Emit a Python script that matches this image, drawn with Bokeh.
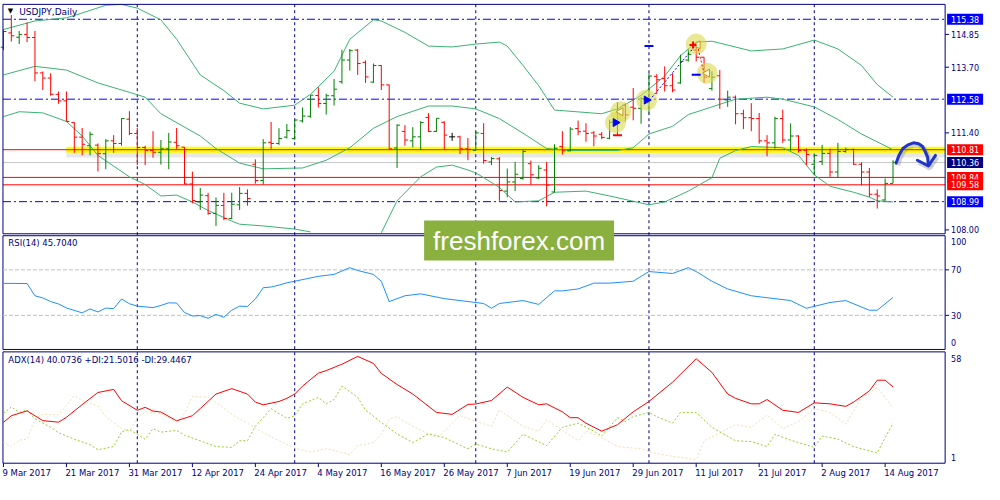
import numpy as np
from bokeh.plotting import figure
from bokeh.models import Range1d, Label, ColumnDataSource
from bokeh.core.properties import value
from bokeh.embed import file_html
from bokeh.resources import INLINE

# ---------------- data ----------------
tick_idx = [0, 8, 16, 24, 32, 40, 48, 56, 64, 72, 80, 88, 96, 104, 112]
tick_labels = ["9 Mar 2017", "21 Mar 2017", "31 Mar 2017", "12 Apr 2017", "24 Apr 2017",
               "4 May 2017", "16 May 2017", "26 May 2017", "7 Jun 2017", "19 Jun 2017",
               "29 Jun 2017", "11 Jul 2017", "21 Jul 2017", "2 Aug 2017", "14 Aug 2017"]
month_sep_idx = [17, 37, 60, 82, 103]

opens = [114.40,114.90,114.75,114.85,114.74,113.50,113.32,112.75,112.52,111.76,
         111.25,110.95,110.97,110.67,111.12,111.03,111.88,111.38,110.89,110.78,
         110.72,110.84,111.07,110.90,109.61,108.98,109.20,108.58,108.86,108.40,
         108.88,109.28,110.30,109.73,111.07,111.03,111.25,111.20,111.82,111.98,
         112.71,112.43,112.70,113.19,113.95,114.30,113.87,113.18,113.76,113.08,
         110.87,111.45,111.12,111.26,111.94,111.45,111.77,111.26,111.26,110.84,
         110.78,111.38,110.38,110.49,109.36,109.68,109.80,110.32,109.82,110.10,
         109.33,110.92,110.77,111.55,111.46,111.40,111.35,111.21,111.77,112.37,
         112.30,112.26,112.58,113.38,113.30,113.05,113.15,113.95,114.30,114.05,
         112.95,113.40,112.55,112.65,112.07,111.93,111.90,111.12,111.05,111.90,
         111.15,111.29,110.78,110.30,110.40,110.68,110.03,110.75,110.82,110.30,
         110.03,109.25,109.05,109.63]
highs = [115.02,115.53,114.97,115.27,114.97,113.55,113.49,112.85,112.85,111.77,
         111.57,111.44,111.03,111.18,111.32,111.91,112.16,111.57,110.95,111.46,
         111.15,111.40,111.57,110.90,110.04,109.47,109.30,109.14,109.30,109.30,
         109.50,109.42,110.47,111.18,111.78,111.56,111.71,111.88,112.29,112.72,
         113.00,112.77,113.29,114.31,114.34,114.34,113.94,113.83,113.77,113.09,
         111.70,111.67,111.60,111.81,112.09,111.91,111.81,111.40,111.30,111.22,
         111.46,111.74,110.55,110.55,110.15,110.38,110.81,110.43,110.27,110.38,
         111.00,111.46,111.60,111.83,111.74,111.46,111.43,111.86,112.48,112.43,
         112.97,112.65,113.49,113.46,113.73,113.49,114.14,114.34,114.51,114.05,
         113.56,113.60,112.88,112.71,112.21,112.44,112.10,111.32,111.97,112.21,
         111.73,111.32,110.85,110.68,110.98,110.85,111.05,110.88,110.85,110.37,
         110.17,109.42,109.80,110.44]
lows = [114.30,114.60,114.51,114.58,113.21,112.90,112.70,112.42,111.79,110.70,
        110.61,110.61,110.05,110.13,110.70,110.95,111.32,110.27,110.27,110.53,
        110.29,110.13,110.84,109.60,108.93,108.70,108.53,108.14,108.34,108.38,
        108.70,108.85,109.62,109.59,110.84,110.98,111.20,111.16,111.76,111.93,
        112.29,112.04,112.36,113.12,113.58,113.43,113.15,113.15,112.90,110.84,
        110.17,110.95,110.89,110.80,111.43,111.43,110.80,111.12,110.66,110.44,
        110.78,110.32,110.27,109.02,109.14,109.36,109.76,109.59,109.78,108.83,
        109.31,110.64,110.75,111.32,111.09,110.93,111.18,111.18,111.29,111.80,
        111.84,111.72,112.07,112.75,112.85,112.82,113.12,113.90,113.90,113.15,
        112.88,112.24,112.31,111.70,111.53,111.46,111.02,110.58,110.85,111.05,
        110.78,110.71,110.27,109.93,110.27,109.86,109.83,110.71,110.27,109.56,
        109.15,108.75,109.02,109.63]
closes = [114.95,114.80,114.85,114.74,113.50,113.32,112.75,112.52,111.80,111.25,
          111.00,111.35,110.67,111.12,111.03,111.90,111.38,110.89,110.78,110.72,
          110.84,111.08,110.95,109.61,109.03,109.22,108.58,108.86,108.40,108.90,
          109.28,109.10,109.73,111.05,111.03,111.20,111.48,111.85,111.99,112.72,
          112.43,112.70,112.93,113.95,114.28,113.83,113.36,113.76,113.08,110.84,
          111.67,111.15,111.26,111.76,111.45,111.91,111.32,111.26,110.84,110.82,
          111.40,110.43,110.50,109.38,109.68,109.95,110.75,109.93,110.16,109.57,
          110.86,110.77,111.53,111.44,111.38,111.29,111.24,111.77,112.14,112.03,
          112.26,112.60,113.39,113.26,113.05,112.90,113.90,114.15,114.05,113.35,
          113.35,112.58,112.65,112.07,111.93,111.90,111.12,111.05,111.90,111.15,
          111.29,110.78,110.64,110.61,110.68,110.03,110.75,110.82,110.30,110.03,
          109.25,109.19,109.63,110.37]

bb_up_idx = [0,4,8,10,13,15,17,20,22,25,28,30,33,37,39,42,44,47,48,51,54,57,60,63,64,66,68,70,76,78,81,84,86,88,90,95,99,103,106,109,111,113]
bb_up = [115.02,115.32,115.43,115.60,115.87,115.90,115.77,115.36,114.68,113.43,
         112.88,112.44,112.24,112.37,112.75,113.56,114.68,115.36,115.32,114.92,
         114.44,114.41,114.51,114.58,114.44,113.76,113.05,112.20,112.07,112.24,
         112.71,113.39,114.10,114.58,114.61,114.27,114.34,114.65,114.34,113.76,
         113.09,112.65]
bb_mid_idx = [0,4,8,12,16,18,20,25,27,30,33,38,41,44,47,50,54,57,60,63,66,69,72,78,80,82,85,87,90,93,97,99,103,106,109,113]
bb_mid = [113.43,113.73,113.60,113.15,112.82,112.65,112.07,111.29,110.85,110.34,
          110.14,110.17,110.44,110.88,111.56,111.97,112.34,112.34,112.24,111.90,
          111.39,110.85,110.78,110.78,110.88,111.36,111.63,112.04,112.31,112.58,
          112.65,112.58,112.31,111.87,111.36,110.81]
bb_lo_idx = [0,2,5,8,10,12,16,18,20,22,24,26,29,30,33,37,39,42,45,48,50,53,55,57,59,60,63,65,68,70,74,77,82,84,87,90,91,93,95,99,101,103,105,108,110,111,113]
bb_lo = [111.97,112.14,112.10,111.80,111.29,110.61,109.86,109.59,109.19,109.22,
         108.98,108.68,108.31,108.20,108.14,108.03,107.93,107.69,107.63,107.90,
         109.02,109.86,110.20,110.27,110.10,110.00,109.49,108.98,109.02,109.32,
         109.36,109.19,108.88,108.98,109.36,109.83,110.51,110.78,110.92,110.88,
         110.61,109.93,109.53,109.32,109.15,109.02,108.98]

rsi_idx = [0,3,4,5,6,7,8,10,11,12,13,14,15,16,17,19,20,21,22,23,24,25,26,27,28,29,30,31,32,33,
           34,35,36,37,40,42,44,45,47,48,49,51,53,56,58,61,62,63,66,68,70,71,73,75,77,80,82,85,87,88,
           90,92,95,97,100,102,105,107,110,111,113]
rsi_val = [58.1,58.0,47.2,45.3,42.1,40.0,36.5,32.2,35.6,33.0,36.4,35.9,44.4,40.2,38.1,36.8,38.7,41.0,40.8,32.5,
           29.4,29.8,27.4,30.8,28.3,34.5,38.1,37.8,44.4,54.3,54.9,56.6,58.6,60.0,64.3,66.0,71.9,69.4,66.0,60.0,
           42.1,47.2,48.9,44.7,43.0,40.4,36.2,40.4,43.0,39.6,51.5,51.5,53.2,58.3,58.3,60.0,68.5,66.8,71.9,68.5,
           60.0,53.2,47.2,45.5,43.0,36.2,41.3,43.0,34.5,34.5,45.7]

adx_idx = [0,1,3,5,7,8,10,12,14,15,17,18,19,20,22,24,25,27,29,31,32,33,35,36,37,38,40,41,43,45,
           47,48,50,52,55,57,59,60,62,64,66,68,69,71,72,73,74,76,78,80,82,85,88,90,92,93,95,96,97,99,
           101,103,105,107,108,110,111,112,113]
adx_val = [21.9,25.3,27.8,22.8,22.0,24.5,31.0,37.2,38.8,33.0,28.1,29.6,27.7,27.2,22.7,25.3,29.0,36.4,39.2,36.4,
           32.3,30.9,32.6,34.2,36.4,40.5,47.1,48.4,51.7,55.7,52.1,47.0,41.3,36.4,27.0,26.0,31.1,31.3,33.1,40.0,
           34.7,30.9,31.4,27.3,24.3,24.3,21.5,17.4,20.7,27.3,32.6,42.5,54.5,47.5,36.4,34.2,31.4,31.4,33.6,28.1,
           27.0,31.9,31.4,30.1,32.3,38.0,43.5,43.5,40.07]
pdi_idx = [0,1,2,3,4,6,7,9,11,12,14,15,16,18,19,20,22,23,25,27,29,30,31,32,34,36,37,38,40,41,
           42,43,45,46,48,50,52,54,56,59,60,62,64,66,69,71,73,75,76,78,79,80,82,83,85,86,88,90,93,95,
           97,98,100,103,104,106,108,111,112,113]
pdi_val = [26.5,29.8,27.0,28.2,23.7,19.4,16.6,13.3,10.5,7.9,9.5,17.1,18.3,13.3,18.7,16.9,17.8,15.3,12.5,9.5,
           9.1,12.5,12.5,19.9,28.9,24.0,25.3,31.4,34.7,31.4,33.6,40.5,34.7,28.2,21.9,16.0,11.6,16.1,14.1,8.4,
           10.8,8.4,6.7,15.8,10.0,19.4,21.5,17.4,14.9,24.3,22.4,24.8,27.0,24.8,21.5,27.0,27.0,19.4,12.5,12.1,
           9.5,15.8,12.8,9.1,14.9,13.3,9.5,6.2,14.1,21.50]
mdi_idx = [0,1,2,3,4,5,7,9,10,12,13,15,16,17,18,20,22,23,24,26,27,29,31,33,35,37,39,41,42,44,
           45,47,48,49,50,52,55,56,58,60,62,63,66,68,69,71,73,74,76,78,81,83,85,88,89,91,93,95,97,99,
           101,103,105,107,109,111,113]
mdi_val = [11.6,9.5,12.8,13.3,23.7,26.0,25.7,35.6,33.1,30.3,24.8,18.7,17.4,24.3,27.3,26.5,21.5,26.5,35.2,34.7,
           32.3,26.0,21.5,16.6,12.5,8.8,6.7,8.4,7.5,5.5,10.0,11.6,15.8,23.7,24.8,19.9,14.1,17.4,25.3,22.4,
           19.9,28.2,19.9,17.4,23.2,17.8,12.5,17.4,14.1,9.5,8.4,5.9,4.5,2.9,12.5,16.6,20.7,19.4,25.7,18.7,
           22.4,29.0,27.0,21.0,34.7,39.7,29.45]

price_ticks = [114.85, 113.70, 111.40, 108.00]
rsi_ticks = [70, 30]
rsi_levels = [70, 30]
dashdot_levels = [115.38, 112.58, 108.99]
red_levels = [110.81, 109.84, 109.58]
bid_level = 110.36
band_level = 110.81
band_start = 8
tag_vals = [115.38, 112.58, 110.81, 110.36, 109.84, 109.58, 108.99]
tag_colors = ["#0000ff", "#0000ff", "#ff0000", "#000080", "#ff0000", "#ff0000", "#0000ff"]

# trade objects on the chart
halo_idx = [77.75, 78.4, 81.7, 88.0, 89.4]
halo_px = [111.76, 112.14, 112.55, 114.51, 113.49]
buy_idx = [77.75, 81.7]
buy_px = [111.76, 112.55]
exit_idx = [78.4, 88.2, 89.4]
exit_px = [112.14, 114.48, 113.49]
bdash_idx = [88.0, 82.0]
bdash_px = [113.44, 114.44]
rdash_idx = [78.0]
rdash_px = [111.32]
cross_idx = [87.6]
cross_px = [114.48]
bline_idx = [82.4, 87.75]
bline_px = [112.65, 114.41]
rline_idx = [88.25, 88.9]
rline_px = [114.34, 113.60]

# hand-drawn arrow
arr_idx = [113.4, 113.75, 114.25, 114.9, 115.6, 116.25, 116.75, 117.1, 117.4, 117.5]
arr_px = [110.34, 110.61, 110.85, 110.98, 111.05, 111.02, 110.92, 110.75, 110.54, 110.27]
head_idx = [116.1, 117.5, 118.4]
head_px = [110.44, 110.24, 110.61]

# ---------------- layout helpers (reference pixel -> data units) ----------------
K = (114.85 - 108.00) / (237 - 35)          # price per pixel of the price panel


def py(y):  # price units for a reference pixel row
    return 114.85 - (y - 35) * K


def ix(x):  # bar index for a reference pixel column
    return (x - 3) / 8.0


def ry(y):  # RSI units
    return (360.5 - y) / 1.175


def ay(y):  # ADX units
    return 58 - (y - 363) / (115 / 57)


NAVY = "#000080"
FONT = "DejaVu Sans"
XL, XR = ix(2.5), ix(960)
P_TOP, P_BOT = py(4), py(241)

p = figure(width=984, height=484, x_range=Range1d(ix(0), ix(1000)), y_range=Range1d(py(500), py(0)),
           output_backend="svg", toolbar_location=None, tools="",
           x_axis_location=None, y_axis_location=None, min_border=0, outline_line_color=None)
p.extra_y_ranges = {"rsi": Range1d(ry(500), ry(0)), "adx": Range1d(ay(500), ay(0))}
p.grid.visible = False
p.background_fill_color = "white"
p.border_fill_color = "white"


def text(x, y, t, size="8px", color=NAVY, align="left", baseline="middle", font=FONT, **kw):
    p.text(x=x, y=y, text=t, text_font=value(font), text_font_size=value(size), text_color=color,
           text_align=align, text_baseline=baseline, **kw)


# month separators through all panels
p.segment(x0=month_sep_idx, y0=[py(478)] * len(month_sep_idx), x1=month_sep_idx,
          y1=[py(4)] * len(month_sep_idx), line_color=NAVY, line_dash="3 3", line_width=1)

# ---------------- price panel ----------------
pp = (P_TOP - P_BOT) / 237.0
p.segment(x0=[band_start], y0=[band_level - 4 * pp], x1=[XR], y1=[band_level - 4 * pp],
          line_color="#808080", line_alpha=0.18, line_width=8)
p.segment(x0=[band_start], y0=[band_level], x1=[XR], y1=[band_level], line_color="#ffff00", line_width=6)
n = len(dashdot_levels)
p.segment(x0=[XL] * n, y0=dashdot_levels, x1=[XR] * n, y1=dashdot_levels,
          line_color="#0000ff", line_dash="8 3 2 3", line_width=1)
p.segment(x0=[XL], y0=[bid_level], x1=[XR], y1=[bid_level], line_color="#c8c8c8", line_width=1)
n = len(red_levels)
p.segment(x0=[XL] * n, y0=red_levels, x1=[XR] * n, y1=red_levels, line_color="#ff0000", line_width=1)

bb_lo_vis = [v if v >= P_BOT else np.nan for v in bb_lo]
p.line(bb_up_idx, bb_up, line_color="#3cb371", line_width=1)
p.line(bb_mid_idx, bb_mid, line_color="#3cb371", line_width=1)
p.line(bb_lo_idx, bb_lo_vis, line_color="#3cb371", line_width=1)

idx = np.arange(len(opens))
colors = ["#008000" if c > o else ("#ff0000" if c < o else "#000000") for o, c in zip(opens, closes)]
src = ColumnDataSource(dict(i=idx, il=idx - 0.38, ir=idx + 0.38, o=opens, h=highs, l=lows, c=closes, col=colors))
p.segment("i", "l", "i", "h", source=src, line_color="col", line_width=1)
p.segment("il", "o", "i", "o", source=src, line_color="col", line_width=1)
p.segment("i", "c", "ir", "c", source=src, line_color="col", line_width=1)

p.scatter(halo_idx, halo_px, size=21, fill_color="#d9d94e", fill_alpha=0.6, line_color=None)
p.line(bline_idx, bline_px, line_color="#0000ff", line_dash="2 2", line_width=1)
p.line(rline_idx, rline_px, line_color="#ff0000", line_dash="2 2", line_width=1)
p.scatter(buy_idx, buy_px, marker="triangle", angle=-np.pi / 2, size=8, fill_color="#0000ff", line_color="#0000ff")
p.scatter(exit_idx, exit_px, marker="triangle", angle=np.pi / 2, size=8, fill_color="#fffbe0", line_color="#c89600")
p.scatter(bdash_idx, bdash_px, marker="dash", size=9, line_color="#0000ff", line_width=2)
p.scatter(rdash_idx, rdash_px, marker="dash", size=9, line_color="#ff0000", line_width=2)
p.scatter(cross_idx, cross_px, marker="cross", size=7, line_color="#ff0000", line_width=2)

sx, sy = 1.5 / 8, -2 * pp
p.line([a + sx for a in arr_idx], [b + sy for b in arr_px], line_color="#808080", line_alpha=0.35, line_width=5)
p.line([a + sx for a in head_idx], [b + sy for b in head_px], line_color="#808080", line_alpha=0.35, line_width=5)
p.line(arr_idx, arr_px, line_color="#1f35c8", line_width=3, line_cap="round", line_join="round")
p.line(head_idx, head_px, line_color="#1f35c8", line_width=3, line_cap="round", line_join="round")

# panel frame
p.line([XL, XR, XR, XL, XL], [P_TOP, P_TOP, P_BOT, P_BOT, P_TOP], line_color=NAVY, line_width=1)
# price axis ticks + labels
n = len(price_ticks)
p.segment(x0=[XR] * n, y0=price_ticks, x1=[ix(964)] * n, y1=price_ticks, line_color=NAVY)
text([ix(966)] * n, price_ticks, ["%.2f" % v for v in price_ticks])

# price tags
for v, col in zip(tag_vals, tag_colors):
    p.add_layout(Label(x=ix(962), y=v, text="%.2f" % v, text_color="white", text_font=FONT,
                       text_font_size="8px", text_baseline="middle", text_align="left",
                       background_fill_color=col, padding=dict(left=4, right=4, top=2, bottom=2)))

# title
text([ix(10)], [py(11)], ["\u25bc"], size="7px", color="black", align="center")
text([ix(19)], [py(12)], ["USDJPY,Daily"], size="9px")

# ---------------- RSI panel ----------------
p.line([XL, XR, XR, XL, XL], [100, 100, 0, 0, 100], line_color=NAVY, line_width=1, y_range_name="rsi")
n = len(rsi_levels)
p.segment(x0=[XL] * n, y0=rsi_levels, x1=[XR] * n, y1=rsi_levels, line_color="#c0c0c0",
          line_dash="4 2", line_width=1, y_range_name="rsi")
p.line(rsi_idx, rsi_val, line_color="#1e90ff", line_width=1, y_range_name="rsi")
n = len(rsi_ticks)
p.segment(x0=[XR] * n, y0=rsi_ticks, x1=[ix(964)] * n, y1=rsi_ticks, line_color=NAVY, y_range_name="rsi")
text([ix(966)] * n, rsi_ticks, [str(v) for v in rsi_ticks], y_range_name="rsi")
text([ix(966), ix(966)], [py(249), py(353)], ["100", "0"])
text([ix(8)], [py(251)], ["RSI(14) 45.7040"], size="8.5px")

# ---------------- ADX panel ----------------
p.line([XL, XR, XR, XL, XL], [58, 58, 1, 1, 58], line_color=NAVY, line_width=1, y_range_name="adx")
p.line(mdi_idx, mdi_val, line_color="#f5deb3", line_dash="2 2", line_width=1, y_range_name="adx")
p.line(pdi_idx, pdi_val, line_color="#9acd32", line_dash="2 2", line_width=1, y_range_name="adx")
p.line(adx_idx, adx_val, line_color="#ff0000", line_width=1, y_range_name="adx")
text([ix(966), ix(966)], [py(370), py(472)], ["58", "1"])
text([ix(8)], [py(371)], ["ADX(14) 40.0736 +DI:21.5016 -DI:29.4467"], size="8.5px")

# time axis
n = len(tick_idx)
p.segment(x0=tick_idx, y0=[py(478)] * n, x1=tick_idx, y1=[py(482)] * n, line_color=NAVY)
text([t - 1 / 8 for t in tick_idx], [py(488)] * n, tick_labels, size="8.5px")

# watermark
p.add_layout(Label(x=ix(527), y=py(248), text="freshforex.com", text_color="white",
                   text_font="Liberation Sans", text_font_size="26px", text_align="center",
                   text_baseline="middle", background_fill_color="#8ab13f",
                   padding=dict(left=9, right=9, top=5, bottom=5)))

open("out.html", "w").write(file_html(p, INLINE))
